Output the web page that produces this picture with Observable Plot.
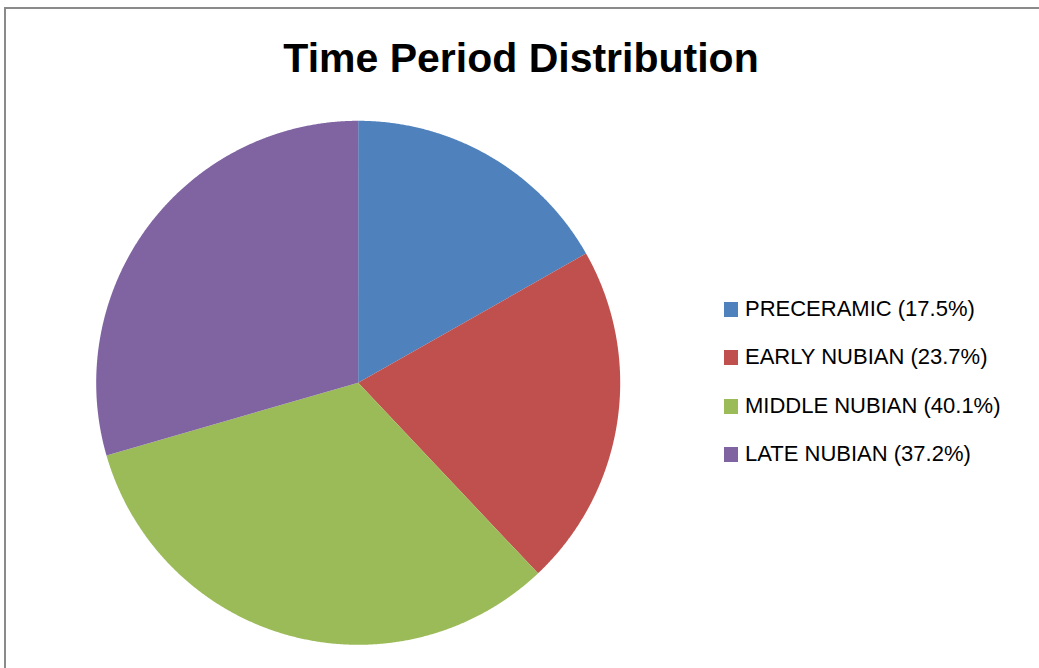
<!DOCTYPE html>
<html>
<head>
<meta charset="utf-8">
<script src="https://cdn.jsdelivr.net/npm/d3@7"></script>
<script src="https://cdn.jsdelivr.net/npm/@observablehq/plot@0.6"></script>
<style>
  html, body { margin: 0; padding: 0; background: #fff; overflow: hidden; }
  #wrap { position: relative; width: 1039px; height: 668px; overflow: hidden; }
  #border { position: absolute; left: 4px; top: 7px; width: 1100px; height: 700px; border: 2px solid #8a8a8a; box-sizing: border-box; }
  #title { position: absolute; left: 0; width: 1042px; top: 33px; text-align: center; font-family: "Liberation Sans", Arial, sans-serif; font-weight: bold; font-size: 41px; line-height: 50px; color: #000; }
  #chart { position: absolute; left: 0; top: 0; }
  #legend { position: absolute; left: 724px; top: 295px; font-family: "Liberation Sans", Arial, sans-serif; font-size: 22px; color: #000; }
  .item { position: relative; height: 48.3px; }
  .sw { position: absolute; left: 0; top: 7px; width: 14px; height: 15px; }
  .lb { position: absolute; left: 21px; top: 0; line-height: 28px; white-space: nowrap; }
</style>
</head>
<body>
<div id="wrap">
  <div id="border"></div>
  <div id="chart"></div>
  <div id="title">Time Period Distribution</div>
  <div id="legend"></div>
</div>
<script>
const categories = ["PRECERAMIC", "EARLY NUBIAN", "MIDDLE NUBIAN", "LATE NUBIAN"];
const values = [16.8, 21.2, 32.6, 29.5];
const legendLabels = ["PRECERAMIC (17.5%)", "EARLY NUBIAN (23.7%)", "MIDDLE NUBIAN (40.1%)", "LATE NUBIAN (37.2%)"];
const colors = ["#4F81BD", "#C0504D", "#9BBB59", "#8064A2"];

const W = 1039, H = 668;
const cx = 357.7, cy = 382.3, R = 262;

const arcs = d3.pie().sort(null).value(d => d.value)(
  categories.map((c, i) => ({cat: c, value: values[i]}))
);
const pts = [];
for (const a of arcs) {
  pts.push({cat: a.data.cat, x: cx, y: cy});
  const n = Math.max(2, Math.ceil((a.endAngle - a.startAngle) / (Math.PI / 720)));
  for (let k = 0; k <= n; k++) {
    const t = a.startAngle + (a.endAngle - a.startAngle) * k / n;
    pts.push({cat: a.data.cat, x: cx + R * Math.sin(t), y: cy - R * Math.cos(t)});
  }
}

const chart = Plot.plot({
  width: W, height: H, margin: 0,
  x: {domain: [0, W], range: [0, W], axis: null},
  y: {domain: [0, H], range: [0, H], axis: null},
  color: {domain: categories, range: colors},
  style: {background: "transparent"},
  marks: [
    Plot.line(pts, {x: "x", y: "y", z: "cat", fill: "cat", stroke: null, curve: "linear-closed"})
  ]
});
document.getElementById("chart").appendChild(chart);

const leg = document.getElementById("legend");
legendLabels.forEach((t, i) => {
  const it = document.createElement("div"); it.className = "item";
  const sw = document.createElement("div"); sw.className = "sw"; sw.style.background = colors[i];
  const lb = document.createElement("div"); lb.className = "lb"; lb.textContent = t;
  it.appendChild(sw); it.appendChild(lb); leg.appendChild(it);
});
</script>
</body>
</html>
